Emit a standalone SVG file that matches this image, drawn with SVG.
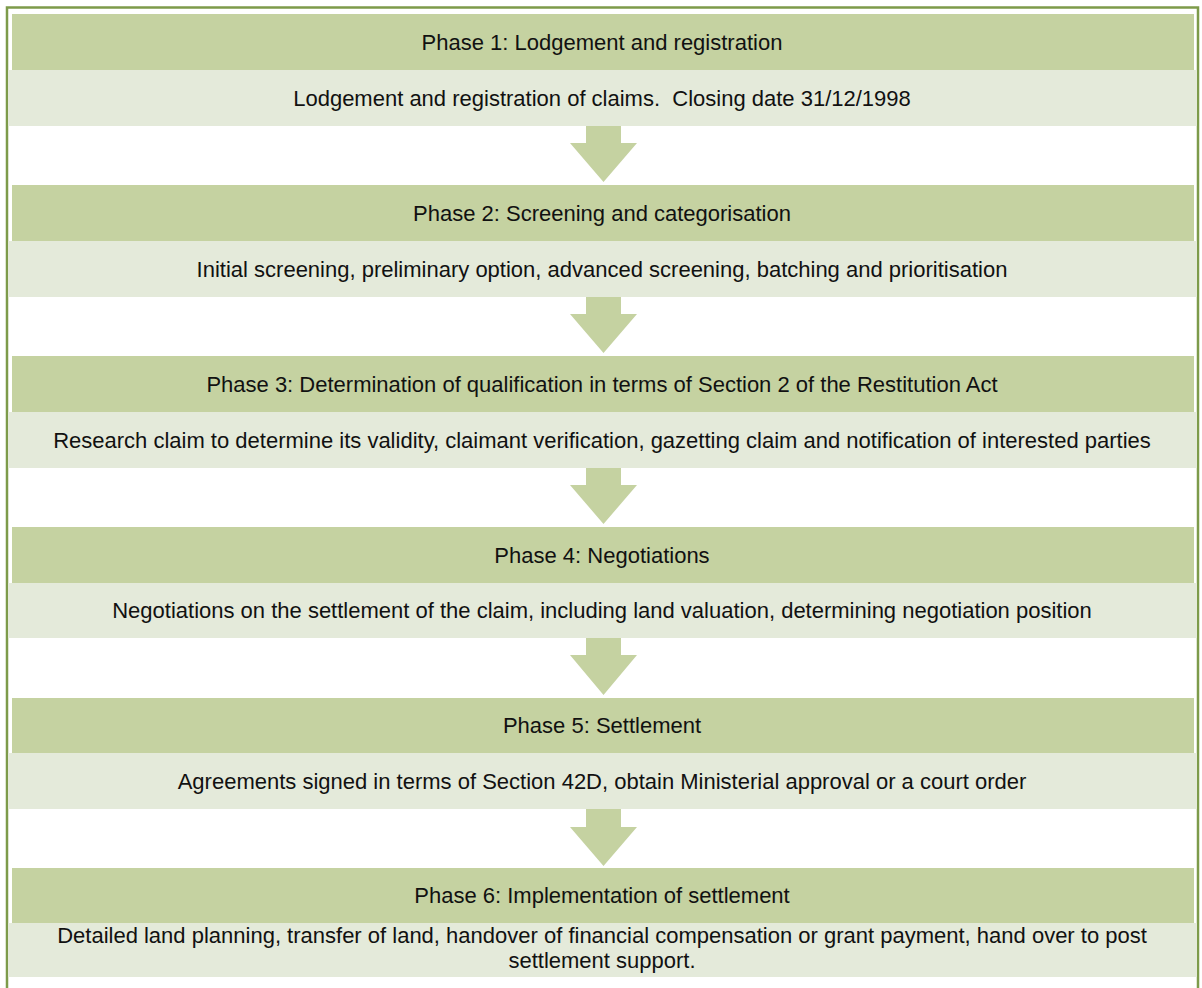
<svg xmlns="http://www.w3.org/2000/svg" width="1202" height="988" viewBox="0 0 1202 988">
<style>
.hd{fill:#c5d2a1}
.lt{fill:#e4eada}
.ar{fill:#c5d2a1}
text{font-family:"Liberation Sans",Arial,sans-serif;font-size:22px;fill:#111;text-anchor:middle}
.pre{white-space:pre}
</style>
<rect x="0" y="0" width="1202" height="988" fill="#ffffff"/>
<rect x="7" y="7.5" width="1191" height="1000" fill="none" stroke="#7d9b4a" stroke-width="2.5"/>
<g id="phase1">
<rect class="hd" x="12" y="14" width="1182" height="56"/>
<rect class="lt" x="8" y="70" width="1189" height="56"/>
<text x="602" y="50">Phase 1: Lodgement and registration</text>
<text class="pre" x="602" y="106" xml:space="preserve">Lodgement and registration of claims.  Closing date 31/12/1998</text>
</g>
<g id="phase2">
<rect class="hd" x="12" y="185" width="1182" height="56"/>
<rect class="lt" x="8" y="241" width="1189" height="56"/>
<text x="602" y="221">Phase 2: Screening and categorisation</text>
<text x="602" y="277">Initial screening, preliminary option, advanced screening, batching and prioritisation</text>
</g>
<g id="phase3">
<rect class="hd" x="12" y="356" width="1182" height="56"/>
<rect class="lt" x="8" y="412" width="1189" height="56"/>
<text x="602" y="392">Phase 3: Determination of qualification in terms of Section 2 of the Restitution Act</text>
<text x="602" y="448">Research claim to determine its validity, claimant verification, gazetting claim and notification of interested parties</text>
</g>
<g id="phase4">
<rect class="hd" x="12" y="527" width="1182" height="56"/>
<rect class="lt" x="8" y="583" width="1189" height="55"/>
<text x="602" y="563">Phase 4: Negotiations</text>
<text x="602" y="618">Negotiations on the settlement of the claim, including land valuation, determining negotiation position</text>
</g>
<g id="phase5">
<rect class="hd" x="12" y="698" width="1182" height="55"/>
<rect class="lt" x="8" y="753" width="1189" height="56"/>
<text x="602" y="733">Phase 5: Settlement</text>
<text x="602" y="789">Agreements signed in terms of Section 42D, obtain Ministerial approval or a court order</text>
</g>
<g id="phase6">
<rect class="hd" x="12" y="868" width="1182" height="55"/>
<rect class="lt" x="8" y="923" width="1189" height="54"/>
<text x="602" y="903">Phase 6: Implementation of settlement</text>
<text x="602" y="943">Detailed land planning, transfer of land, handover of financial compensation or grant payment, hand over to post</text>
<text x="602" y="968">settlement support.</text>
</g>
<g id="connectors">
<polygon class="ar" points="586,126 621,126 621,143 637,143 603.5,182 570,143 586,143"/>
<polygon class="ar" points="586,297 621,297 621,314 637,314 603.5,353 570,314 586,314"/>
<polygon class="ar" points="586,468 621,468 621,485 637,485 603.5,524 570,485 586,485"/>
<polygon class="ar" points="586,638 621,638 621,655 637,655 603.5,695 570,655 586,655"/>
<polygon class="ar" points="586,809 621,809 621,827 637,827 603.5,866 570,827 586,827"/>
</g>
</svg>
